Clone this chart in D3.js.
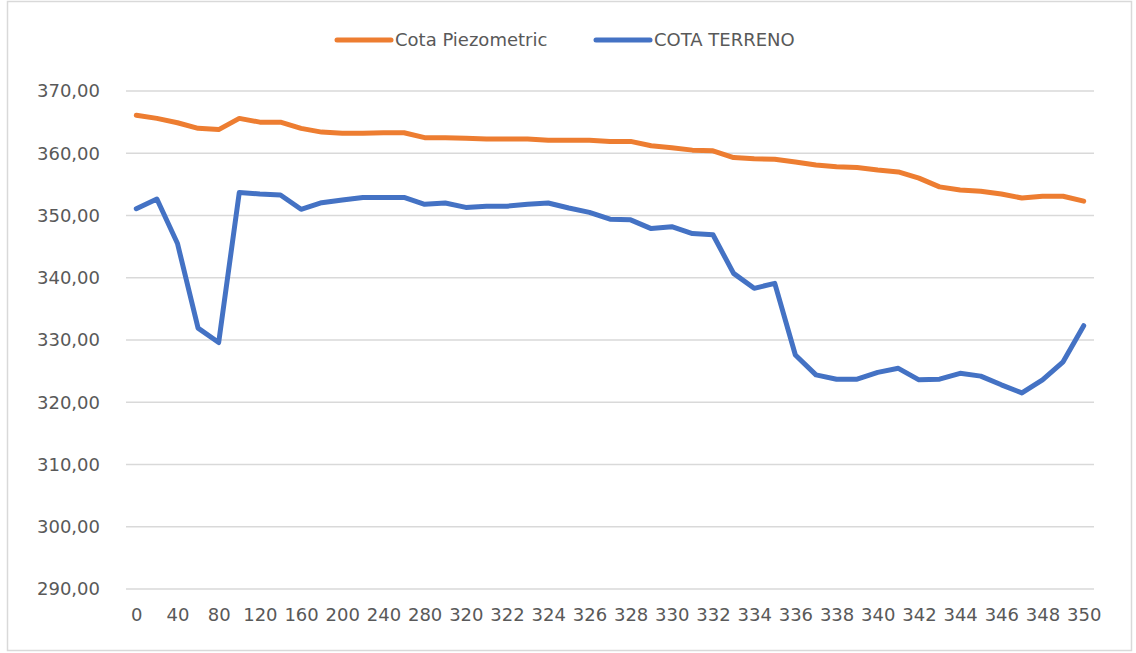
<!DOCTYPE html>
<html>
<head>
<meta charset="utf-8">
<script src="https://cdn.jsdelivr.net/npm/d3@7"></script>
<style>
  body { margin: 0; background: #fff; }
  svg text { font-family: "DejaVu Sans", sans-serif; fill: #595959; }
</style>
</head>
<body>
<svg id="chart" width="1136" height="653"></svg>
<script>
// x categories (station), every other label is shown like Excel does
var stations = [0,20,40,60,80,100,120,140,160,180,200,220,240,260,280,300,320,
  321,322,323,324,325,326,327,328,329,330,331,332,333,334,335,336,337,338,339,340,
  341,342,343,344,345,346,347,348,349,350];

var cotaPiezo = [366.1,365.6,364.9,364.0,363.8,365.6,365.0,365.0,364.0,363.4,363.2,363.2,363.3,
  363.3,362.5,362.5,362.4,362.3,362.3,362.3,362.1,362.1,362.1,361.9,361.9,361.2,360.9,360.5,
  360.4,359.3,359.1,359.05,358.6,358.1,357.85,357.7,357.3,357.0,356.0,354.6,354.1,353.9,353.45,
  352.8,353.1,353.1,352.3];

var cotaTerreno = [351.1,352.65,345.5,331.9,329.6,353.7,353.45,353.3,351.0,352.05,352.5,352.9,352.9,
  352.9,351.8,352.0,351.3,351.5,351.5,351.8,352.0,351.2,350.5,349.4,349.3,347.9,348.2,347.1,
  346.9,340.7,338.3,339.1,327.6,324.4,323.7,323.7,324.8,325.45,323.6,323.7,324.65,324.2,322.8,
  321.5,323.6,326.5,332.3];

var yTicks = [290,300,310,320,330,340,350,360,370];

var series = [
  { name: "Cota Piezometric", values: cotaPiezo, color: "#ED7D31" },
  { name: "COTA TERRENO", values: cotaTerreno, color: "#4472C4" }
];

var svg = d3.select('#chart');
var fmt = d3.formatLocale({ decimal: ",", thousands: ".", grouping: [3] }).format(".2f");

// outer chart border
svg.append("rect")
  .attr("x", 7.5).attr("y", 1.5).attr("width", 1124).attr("height", 649)
  .attr("fill", "none").attr("stroke", "#d9d9d9").attr("stroke-width", 1.5);

var x = d3.scalePoint().domain(d3.range(stations.length)).range([126, 1094]).padding(0.5);
var y = d3.scaleLinear().domain([290, 370]).range([589, 91]);

// gridlines
svg.append("g").selectAll("line")
  .data(yTicks).enter()
  .append("line")
  .attr("x1", 126).attr("x2", 1094)
  .attr("y1", function(d) { return y(d); })
  .attr("y2", function(d) { return y(d); })
  .attr("stroke", "#d9d9d9").attr("stroke-width", 1.5);

// y axis labels
var yAxis = svg.append("g")
  .attr("transform", "translate(100,0)")
  .call(d3.axisLeft(y).tickValues(yTicks).tickFormat(fmt).tickSize(0).tickPadding(0));
yAxis.select(".domain").remove();
yAxis.selectAll("text")
  .style("font-family", "DejaVu Sans").style("font-size", "18px").attr("fill", "#606060");

// x axis labels
var xAxis = svg.append("g")
  .attr("transform", "translate(0,608)")
  .call(d3.axisBottom(x)
    .tickValues(d3.range(0, stations.length, 2))
    .tickFormat(function(i) { return stations[i]; })
    .tickSize(0).tickPadding(0));
xAxis.select(".domain").remove();
xAxis.selectAll("text")
  .style("font-family", "DejaVu Sans").style("font-size", "18px").attr("fill", "#606060");

// lines
var line = d3.line()
  .x(function(d, i) { return x(i); })
  .y(function(d) { return y(d); });

svg.append("g").selectAll("path")
  .data(series).enter()
  .append("path")
  .attr("d", function(s) { return line(s.values); })
  .attr("fill", "none")
  .attr("stroke", function(s) { return s.color; })
  .attr("stroke-width", 5)
  .attr("stroke-linejoin", "round")
  .attr("stroke-linecap", "round");

// legend
var legendX = [337, 596];
var legend = svg.append("g").selectAll("g")
  .data(series).enter()
  .append("g")
  .attr("transform", function(d, i) { return "translate(" + legendX[i] + ",40)"; });
legend.append("line")
  .attr("x1", 0).attr("x2", 54).attr("y1", 0).attr("y2", 0)
  .attr("stroke", function(d) { return d.color; })
  .attr("stroke-width", 5).attr("stroke-linecap", "round");
legend.append("text")
  .attr("x", 58).attr("y", 0).attr("dy", "0.35em")
  .style("font-size", "18px")
  .attr("fill", "#606060")
  .text(function(d) { return d.name; });
</script>
</body>
</html>
